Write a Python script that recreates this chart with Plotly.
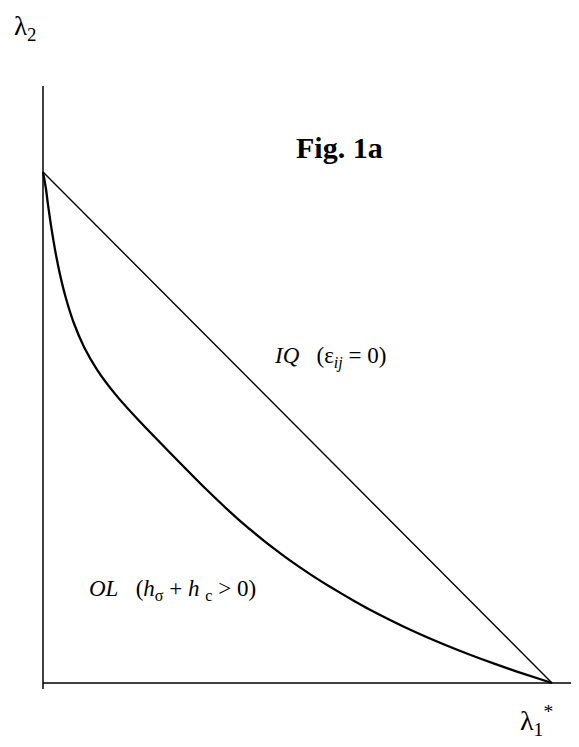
import plotly.graph_objects as go

# Data (normalised units: lambda1* on x, lambda2 on y)
iq_x = [0.0, 1.0]
iq_y = [1.0, 0.0]

ol_x = [0.0, 0.0059, 0.0098, 0.0157, 0.0236, 0.0334, 0.0452, 0.0609, 0.0806, 0.1061,
        0.1415, 0.1906, 0.2495, 0.3222, 0.3870, 0.4656, 0.5246, 0.5639, 0.6130,
        0.6405, 0.7132, 0.7859, 0.8585, 0.9312, 1.0]
ol_y = [1.0, 0.9667, 0.9362, 0.8953, 0.8481, 0.7994, 0.7524, 0.7035, 0.6577, 0.6133,
        0.5658, 0.5112, 0.4507, 0.3777, 0.3174, 0.2542, 0.2131, 0.1883, 0.1595,
        0.1444, 0.1082, 0.0763, 0.0479, 0.0223, 0.0]

# page body has an 8px margin: draw in a slightly smaller figure, offset by 8px
OFF = 8
W, H = 579 - 2 * OFF, 747 - 2 * OFF
X0, Y0 = 43 - OFF, 683 - OFF      # pixel position of origin inside the figure
SX, SY = 509, 511                 # pixels per data unit
x_range = [-X0 / SX, (W - X0) / SX]
y_range = [(Y0 - H) / SY, Y0 / SY]

FONT = "Liberation Serif, Times New Roman, serif"

fig = go.Figure()
fig.add_trace(go.Scatter(x=iq_x, y=iq_y, mode="lines",
                         line=dict(color="black", width=1.4), hoverinfo="skip"))
fig.add_trace(go.Scatter(x=ol_x, y=ol_y, mode="lines", line_shape="spline",
                         line=dict(color="black", width=2.3, smoothing=0.5), hoverinfo="skip"))

# axes lines
fig.add_shape(type="line", x0=0, x1=0, y0=(683 - 86) / SY, y1=(683 - 689) / SY,
              xref="x", yref="y", line=dict(color="black", width=1.5))
fig.add_shape(type="line", x0=0, x1=(579 - 43) / SX, y0=0, y1=0,
              xref="x", yref="y", line=dict(color="black", width=1.5))

def px(x):
    return (x - OFF) / W

def py(y):
    return 1 - (y - OFF) / H

NB = "&nbsp;"
ann = [
    dict(text="λ<sub>2</sub>", x=px(12), y=py(9), xanchor="left", yanchor="top",
         font=dict(size=27, family=FONT)),
    dict(text="λ<sub>1</sub><sup>*</sup>", x=px(518), y=py(720), xanchor="left", yanchor="middle",
         font=dict(size=28, family=FONT)),
    dict(text="<b>Fig. 1a</b>", x=px(294), y=py(147), xanchor="left", yanchor="middle",
         font=dict(size=30, family=FONT)),
    dict(text="<i>IQ</i>" + NB * 3 + "(ε<sub><i>ij</i></sub>" + NB + "=" + NB + "0)",
         x=px(272), y=py(357), xanchor="left", yanchor="middle",
         font=dict(size=23, family=FONT)),
    dict(text="<i>OL</i>" + NB * 3 + "(<i>h</i><sub>σ</sub>" + NB + "+" + NB + "<i>h</i>" + NB
         + "<sub>c</sub>" + NB + ">" + NB + "0)",
         x=px(87), y=py(590), xanchor="left", yanchor="middle",
         font=dict(size=23, family=FONT)),
]
for a in ann:
    a.update(xref="paper", yref="paper", showarrow=False)
    a["font"]["color"] = "black"

fig.update_layout(
    width=W, height=H,
    margin=dict(l=0, r=0, t=0, b=0),
    paper_bgcolor="white", plot_bgcolor="white",
    showlegend=False,
    annotations=ann,
    xaxis=dict(range=x_range, visible=False, fixedrange=True),
    yaxis=dict(range=y_range, visible=False, fixedrange=True),
)

fig.write_html("out.html", config={"displayModeBar": False})
